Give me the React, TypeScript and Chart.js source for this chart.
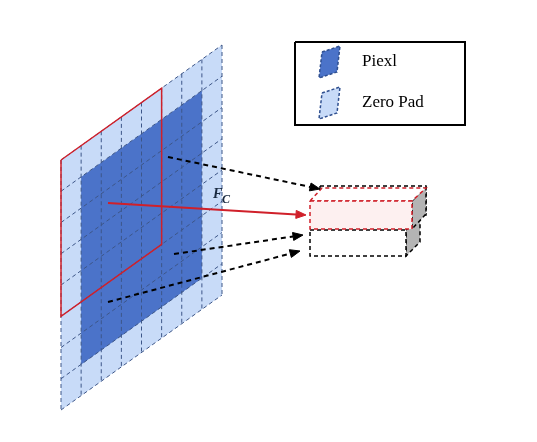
import React, { useEffect, useRef } from 'react'
import { Chart, registerables } from 'chart.js'

Chart.register(...registerables)

type Pt = { x: number; y: number }

// grid layout: 8 x 8 cells, one cell of zero padding all round
const gridCols = 8
const gridRows = 8
const innerCells = [1, 7]
const frameCells = [0, 5]

const legendLabels = ['Piexl', 'Zero Pad']
const featureLabel = 'F'
const featureSub = 'C'

const g = (u: number, v: number): Pt => ({ x: 61 + u * 20.125, y: 160 - u * 14.375 + v * 31.25 })
const quad = (a: number, b: number, c: number, d: number): Pt[] => [g(a, c), g(b, c), g(b, d), g(a, d), g(a, c)]
const rect = (x1: number, y1: number, x2: number, y2: number): Pt[] => [
  { x: x1, y: y1 }, { x: x2, y: y1 }, { x: x2, y: y2 }, { x: x1, y: y2 }, { x: x1, y: y1 },
]
const poly = (pts: number[][]): Pt[] => [...pts, pts[0]].map(([x, y]) => ({ x, y }))

const arrows = [
  { from: [168, 157], to: [320, 189], color: '#000', dash: [5, 4] },
  { from: [174, 254], to: [303, 235], color: '#000', dash: [5, 4] },
  { from: [108, 302], to: [300, 251], color: '#000', dash: [5, 4] },
  { from: [108, 203], to: [306, 215], color: '#d0202a', dash: [] },
]

const App = () => {
  const canvasRef = useRef<HTMLCanvasElement>(null)

  useEffect(() => {
    if (!canvasRef.current) return
    const ds: any[] = []
    const add = (data: Pt[], o: any) => ds.push({ data, showLine: true, pointRadius: 0, fill: false, borderWidth: 1, tension: 0, ...o })

    add(quad(0, gridCols, 0, gridRows), { fill: 'shape', backgroundColor: '#c8dbf8', borderWidth: 0 })
    add(quad(innerCells[0], innerCells[1], innerCells[0], innerCells[1]), { fill: 'shape', backgroundColor: '#4b73c9', borderWidth: 0 })
    for (let i = 0; i <= gridCols; i++) add([g(i, 0), g(i, gridRows)], { borderColor: '#3d5688', borderDash: [4, 3] })
    for (let j = 0; j <= gridRows; j++) add([g(0, j), g(gridCols, j)], { borderColor: '#3d5688', borderDash: [4, 3] })
    add(quad(frameCells[0], frameCells[1], frameCells[0], frameCells[1]), { borderColor: '#d0202a', borderWidth: 1.5 })

    // feature boxes
    add(poly([[406, 230], [420, 216], [420, 242], [406, 256]]), { fill: 'shape', backgroundColor: '#b4b4b4', borderColor: '#000', borderDash: [4, 3], borderWidth: 1.5 })
    add(rect(310, 230, 406, 256), { fill: 'shape', backgroundColor: '#fff', borderColor: '#000', borderDash: [4, 3], borderWidth: 1.5 })
    add(rect(320, 186, 426, 215), { borderColor: '#000', borderDash: [4, 3], borderWidth: 1.5 })
    add(poly([[412, 201], [426, 186], [426, 214], [412, 229]]), { fill: 'shape', backgroundColor: '#b4b4b4', borderColor: '#000', borderDash: [4, 3], borderWidth: 1.5 })
    add(poly([[310, 201], [322, 188], [426, 188], [412, 201]]), { fill: 'shape', backgroundColor: '#ffffff', borderColor: '#d0202a', borderDash: [4, 3], borderWidth: 1.5 })
    add(rect(310, 201, 412, 229), { fill: 'shape', backgroundColor: '#fdf0f0', borderColor: '#d0202a', borderDash: [4, 3], borderWidth: 1.5 })

    arrows.forEach((a) => {
      const [x1, y1] = a.from
      const [x2, y2] = a.to
      const ang = Math.atan2(y2 - y1, x2 - x1)
      const L = 10, W = 4
      const bx = x2 - L * Math.cos(ang), by = y2 - L * Math.sin(ang)
      add([{ x: x1, y: y1 }, { x: bx, y: by }], { borderColor: a.color, borderDash: a.dash, borderWidth: 2 })
      add(poly([[x2, y2], [bx + W * Math.sin(ang), by - W * Math.cos(ang)], [bx - W * Math.sin(ang), by + W * Math.cos(ang)]]),
        { fill: 'shape', backgroundColor: a.color, borderColor: a.color })
    })

    // legend
    add(rect(295, 42, 465, 125), { borderColor: '#000', borderWidth: 2 })
    add(poly([[322, 52], [340, 46], [337, 72], [319, 78]]), { fill: 'shape', backgroundColor: '#4b73c9', borderColor: '#2f4f8f', borderDash: [3, 2], borderWidth: 1.5 })
    add(poly([[322, 93], [340, 87], [337, 113], [319, 119]]), { fill: 'shape', backgroundColor: '#c8dbf8', borderColor: '#2f4f8f', borderDash: [3, 2], borderWidth: 1.5 })

    ds.forEach((d, i) => (d.order = -i))

    const textPlugin = {
      id: 'texts',
      afterDatasetsDraw(chart: any) {
        const { ctx, scales } = chart
        const px = (x: number) => scales.x.getPixelForValue(x)
        const py = (y: number) => scales.y.getPixelForValue(y)
        ctx.save()
        ctx.fillStyle = '#000'
        ctx.textBaseline = 'middle'
        ctx.font = '17px "Liberation Serif"'
        ctx.fillText(legendLabels[0], px(362), py(62))
        ctx.fillText(legendLabels[1], px(362), py(103))
        ctx.font = 'italic bold 14px "Liberation Serif"'
        ctx.fillStyle = '#1a2a40'
        ctx.fillText(featureLabel, px(213), py(194))
        ctx.font = 'italic bold 12px "Liberation Serif"'
        ctx.fillText(featureSub, px(222), py(200))
        ctx.restore()
      },
    }

    const chart = new Chart(canvasRef.current, {
      type: 'scatter',
      data: { datasets: ds },
      options: {
        animation: false,
        responsive: true,
        maintainAspectRatio: false,
        layout: { padding: 0 },
        scales: {
          x: { type: 'linear', min: 0, max: 537, display: false },
          y: { type: 'linear', min: 0, max: 442, reverse: true, display: false },
        },
        plugins: { legend: { display: false }, tooltip: { enabled: false }, filler: { drawTime: 'beforeDatasetDraw' } as any },
      },
      plugins: [textPlugin],
    })
    return () => chart.destroy()
  }, [])

  return (
    <div style={{ position: 'fixed', left: 0, top: 0, width: 537, height: 442, background: '#fff' }}>
      <canvas ref={canvasRef} />
    </div>
  )
}

export default App
